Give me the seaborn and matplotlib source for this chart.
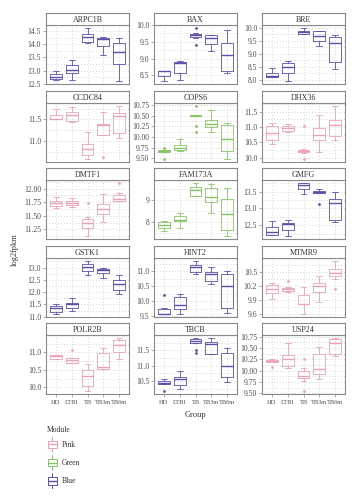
import numpy as np
import pandas as pd
import seaborn as sns
import matplotlib.pyplot as plt
from matplotlib.patches import Patch, Rectangle
from matplotlib.lines import Line2D
from matplotlib.legend_handler import HandlerBase
from matplotlib.ticker import MultipleLocator, FormatStrFormatter

GROUPS = ["HD", "LTBI", "TB", "TB3m", "TB6m"]
GENES = ["ARPC1B", "BAX", "BRE", "CCDC84", "COPS6", "DHX36", "DMTF1", "FAM173A",
         "GMFG", "GSTK1", "HINT2", "MTMR9", "POLR2B", "TBCB", "USP24"]
MODULES = ["Blue", "Blue", "Blue", "Pink", "Green", "Pink", "Pink", "Green",
           "Blue", "Blue", "Blue", "Pink", "Pink", "Blue", "Pink"]
COLORS = {"Pink": "#E8A2BC", "Green": "#86C466", "Blue": "#5B4FAA"}

# y tick step and decimals per panel
STEPS = [0.5, 0.5, 0.5, 0.5, 0.25, 0.5, 0.25, 1, 0.5, 0.5, 0.5, 0.3, 0.5, 0.5, 0.25]
DECIMALS = [1, 1, 1, 1, 2, 1, 2, 0, 1, 1, 1, 1, 1, 1, 2]

# box summaries per group: [lower whisker, q1, median, q3, upper whisker]
ARPC1B = [[12.64, 12.67, 12.77, 12.87, 13.0], [12.64, 12.9, 13.01, 13.2, 13.41],
          [14.05, 14.08, 14.27, 14.37, 14.62], [13.6, 13.92, 14.19, 14.22, 14.28],
          [12.6, 13.24, 13.69, 14.05, 14.24]]
BAX = [[8.32, 8.48, 8.62, 8.64, 8.64], [8.37, 8.58, 8.87, 8.91, 8.93],
       [9.62, 9.64, 9.69, 9.73, 9.77], [9.23, 9.43, 9.62, 9.70, 9.70],
       [8.56, 8.62, 9.11, 9.46, 9.84]]
BRE = [[8.13, 8.13, 8.17, 8.28, 8.45], [7.95, 8.28, 8.48, 8.65, 8.74],
       [9.74, 9.76, 9.83, 9.89, 10.0], [9.31, 9.48, 9.70, 9.88, 9.88],
       [8.41, 8.70, 9.42, 9.63, 9.71]]
CCDC84 = [[11.5, 11.5, 11.52, 11.61, 11.74], [11.44, 11.47, 11.61, 11.68, 11.8],
          [10.57, 10.67, 10.80, 10.93, 11.21], [11.14, 11.14, 11.38, 11.39, 11.67],
          [11.06, 11.19, 11.58, 11.65, 11.82]]
COPS6 = [[9.66, 9.66, 9.68, 9.70, 9.70], [9.68, 9.70, 9.75, 9.81, 9.95],
         [10.48, 10.48, 10.50, 10.52, 10.52], [10.12, 10.24, 10.30, 10.40, 10.63],
         [9.48, 9.67, 9.95, 10.28, 10.33]]
DHX36 = [[10.46, 10.59, 10.81, 11.03, 11.12], [10.83, 10.88, 10.97, 11.03, 11.09],
         [10.15, 10.18, 10.22, 10.26, 10.30], [10.19, 10.59, 10.75, 10.97, 11.39],
         [10.59, 10.72, 11.06, 11.23, 11.7]]
DMTF1 = [[11.64, 11.68, 11.73, 11.78, 11.84], [11.67, 11.70, 11.74, 11.78, 11.83],
         [11.12, 11.28, 11.37, 11.44, 11.47], [11.39, 11.54, 11.62, 11.71, 11.9],
         [11.78, 11.78, 11.81, 11.89, 11.92]]
FAM173A = [[7.58, 7.74, 7.85, 8.0, 8.05], [7.74, 8.03, 8.08, 8.28, 8.4],
           [9.17, 9.17, 9.43, 9.58, 9.78], [8.4, 8.89, 9.12, 9.54, 9.74],
           [7.35, 7.63, 8.38, 9.05, 9.54]]
GMFG = [[12.2, 12.2, 12.31, 12.45, 12.64], [12.17, 12.37, 12.54, 12.57, 12.65],
        [13.42, 13.57, 13.69, 13.77, 13.77], [13.46, 13.46, 13.49, 13.52, 13.59],
        [12.6, 12.65, 13.17, 13.29, 13.49]]
GSTK1 = [[11.1, 11.21, 11.35, 11.45, 11.5], [11.24, 11.35, 11.52, 11.58, 11.77],
         [12.7, 12.86, 13.04, 13.14, 13.28], [12.58, 12.79, 12.9, 12.95, 12.98],
         [11.93, 12.07, 12.32, 12.49, 12.7]]
HINT2 = [[9.58, 9.58, 9.59, 9.74, 9.78], [9.57, 9.74, 9.87, 10.15, 10.24],
         [10.92, 10.98, 11.14, 11.2, 11.35], [10.57, 10.69, 10.91, 10.97, 11.15],
         [9.6, 9.78, 10.5, 10.92, 11.0]]
MTMR9 = [[9.93, 10.06, 10.14, 10.23, 10.26], [10.07, 10.09, 10.13, 10.15, 10.18],
         [9.6, 9.81, 9.82, 10.0, 10.19], [9.87, 10.08, 10.21, 10.26, 10.41],
         [10.35, 10.41, 10.48, 10.56, 10.74]]
POLR2B = [[10.81, 10.81, 10.89, 10.93, 10.93], [10.69, 10.69, 10.79, 10.84, 10.84],
          [9.89, 10.04, 10.34, 10.5, 10.66], [10.54, 10.54, 10.59, 10.99, 11.12],
          [10.81, 11.0, 11.2, 11.35, 11.42]]
TBCB = [[10.41, 10.41, 10.44, 10.5, 10.58], [10.26, 10.39, 10.58, 10.63, 10.83],
        [11.74, 11.74, 11.81, 11.87, 11.89], [11.39, 11.39, 11.72, 11.76, 11.91],
        [10.47, 10.63, 11.0, 11.42, 11.59]]
USP24 = [[10.19, 10.2, 10.22, 10.24, 10.25], [10.05, 10.11, 10.26, 10.34, 10.61],
         [9.77, 9.83, 9.89, 10.0, 10.05], [9.81, 9.92, 10.03, 10.38, 10.52],
         [10.32, 10.37, 10.62, 10.71, 10.73]]

# outlier points (group, value)
BAX_OUT = [("TB", 9.92), ("TB", 9.39)]
CCDC84_OUT = [("TB3m", 10.63)]
COPS6_OUT = [("HD", 9.74), ("HD", 9.48), ("TB", 10.73), ("TB", 10.26), ("TB", 10.11)]
DHX36_OUT = [("TB", 11.03), ("TB", 9.95)]
DMTF1_OUT = [("TB", 11.73), ("TB6m", 12.11)]
GMFG_OUT = [("TB3m", 13.14)]
HINT2_OUT = [("HD", 10.22)]
MTMR9_OUT = [("LTBI", 10.30), ("TB6m", 10.13)]
POLR2B_OUT = [("LTBI", 11.07)]
TBCB_OUT = [("HD", 10.17), ("TB", 11.50), ("TB", 11.42)]
USP24_OUT = [("HD", 10.09), ("TB", 10.26), ("TB", 9.545)]

STATS = {"ARPC1B": ARPC1B, "BAX": BAX, "BRE": BRE, "CCDC84": CCDC84, "COPS6": COPS6,
         "DHX36": DHX36, "DMTF1": DMTF1, "FAM173A": FAM173A, "GMFG": GMFG,
         "GSTK1": GSTK1, "HINT2": HINT2, "MTMR9": MTMR9, "POLR2B": POLR2B,
         "TBCB": TBCB, "USP24": USP24}
OUTLIERS = {"BAX": BAX_OUT, "CCDC84": CCDC84_OUT, "COPS6": COPS6_OUT,
            "DHX36": DHX36_OUT, "DMTF1": DMTF1_OUT, "GMFG": GMFG_OUT,
            "HINT2": HINT2_OUT, "MTMR9": MTMR9_OUT, "POLR2B": POLR2B_OUT,
            "TBCB": TBCB_OUT, "USP24": USP24_OUT}

# long tables
rows = []
for gene, mod in zip(GENES, MODULES):
    for grp, vals in zip(GROUPS, STATS[gene]):
        for v in vals:
            rows.append((gene, mod, grp, v))
boxdf = pd.DataFrame(rows, columns=["gene", "module", "group", "value"])
orows = [(g, grp, v) for g, pts in OUTLIERS.items() for grp, v in pts]
outdf = pd.DataFrame(orows, columns=["gene", "group", "value"])

sns.set_theme(style="white")
plt.rcParams["font.family"] = ["Liberation Serif", "DejaVu Serif"]
TXT = "#4d4d4d"
EDGE = "#8a8a8a"

W, H = 358, 500
fig = plt.figure(figsize=(W / 100, H / 100), dpi=100)

col_x = [46, 154, 262]
pw = 83
strip_top = [13, 91, 168, 246, 323]
sh, ph = 12, 59


def fbox(x, y, w, h):
    return [x / W, 1 - (y + h) / H, w / W, h / H]


for i, gene in enumerate(GENES):
    r, c = divmod(i, 3)
    color = COLORS[MODULES[i]]
    x0, y0 = col_x[c], strip_top[r]
    ax = fig.add_axes(fbox(x0, y0 + sh, pw, ph))
    sub = boxdf[boxdf.gene == gene]
    sns.boxplot(data=sub, x="group", y="value", order=GROUPS, whis=(0, 100),
                fill=False, color=color, linewidth=0.6, width=0.75,
                showfliers=False, medianprops={"linewidth": 1.0}, ax=ax)
    osub = outdf[outdf.gene == gene]
    if len(osub):
        sns.stripplot(data=osub, x="group", y="value", order=GROUPS, jitter=False,
                      size=2, color=color, linewidth=0, ax=ax)
    lo = min(sub.value.min(), osub.value.min() if len(osub) else np.inf)
    hi = max(sub.value.max(), osub.value.max() if len(osub) else -np.inf)
    pad = (hi - lo) * 0.05
    ax.set_ylim(lo - pad, hi + pad)
    ax.set_xlim(-0.6, 4.6)
    ax.yaxis.set_major_locator(MultipleLocator(STEPS[i]))
    ax.yaxis.set_minor_locator(MultipleLocator(STEPS[i] / 2))
    ax.yaxis.set_major_formatter(FormatStrFormatter("%%.%df" % DECIMALS[i]))
    ax.grid(True, which="both", axis="both", linestyle=(0, (1, 2.5)),
            color="#c9c9c9", linewidth=0.6)
    ax.set_axisbelow(True)
    ax.set_xlabel("")
    ax.set_ylabel("")
    for s in ax.spines.values():
        s.set_color(EDGE)
        s.set_linewidth(0.8)
    ax.tick_params(axis="y", which="major", length=2, width=0.5, color=EDGE,
                   labelsize=5.5, labelcolor=TXT, pad=1.5, left=True)
    ax.tick_params(axis="y", which="minor", length=0)
    if r == 4:
        ax.tick_params(axis="x", length=2, width=0.5, color=EDGE, labelsize=4.6,
                       labelcolor=TXT, pad=2, bottom=True)
    else:
        ax.tick_params(axis="x", bottom=False, labelbottom=False)

    sax = fig.add_axes(fbox(x0, y0, pw, sh))
    sax.set_xticks([])
    sax.set_yticks([])
    sax.set_facecolor("white")
    for s in sax.spines.values():
        s.set_color(EDGE)
        s.set_linewidth(0.8)
    sax.text(0.5, 0.45, gene, ha="center", va="center", fontsize=5.8, color="#333333",
             transform=sax.transAxes)

fig.text(15 / W, 1 - 250 / H, "log2fpkm", rotation=90, ha="center", va="center",
         fontsize=6, color="#333333")
fig.text(195.5 / W, 1 - 415 / H, "Group", ha="center", va="center",
         fontsize=6, color="#333333")


class BoxHandler(HandlerBase):
    def create_artists(self, legend, orig_handle, xdescent, ydescent, width,
                       height, fontsize, trans):
        c = orig_handle.get_edgecolor()
        cx = width / 2 - xdescent
        bw = width * 0.85
        b0 = -ydescent + height * 0.25
        bh = height * 0.5
        art = [Rectangle((cx - bw / 2, b0), bw, bh, facecolor="white",
                         edgecolor=c, linewidth=0.7, transform=trans),
               Line2D([cx, cx], [-ydescent, b0], color=c, lw=0.7, transform=trans),
               Line2D([cx, cx], [b0 + bh, -ydescent + height], color=c, lw=0.7,
                      transform=trans),
               Line2D([cx - bw / 2, cx + bw / 2], [b0 + bh / 2, b0 + bh / 2],
                      color=c, lw=1.0, transform=trans)]
        return art


handles = [Patch(edgecolor=COLORS[m], facecolor="white", label=m)
           for m in ["Pink", "Green", "Blue"]]
leg = fig.legend(handles=handles, title="Module", loc="upper left",
                 bbox_to_anchor=(40 / W, 1 - 419 / H), frameon=False,
                 fontsize=5.5, title_fontsize=5.5, handlelength=1.4,
                 handleheight=2.7, labelspacing=0.38, handletextpad=0.6,
                 alignment="left", handler_map={Patch: BoxHandler()})
for t in leg.get_texts():
    t.set_color("#333333")
leg.get_title().set_color("#333333")

fig.savefig("out.png", dpi=100)
